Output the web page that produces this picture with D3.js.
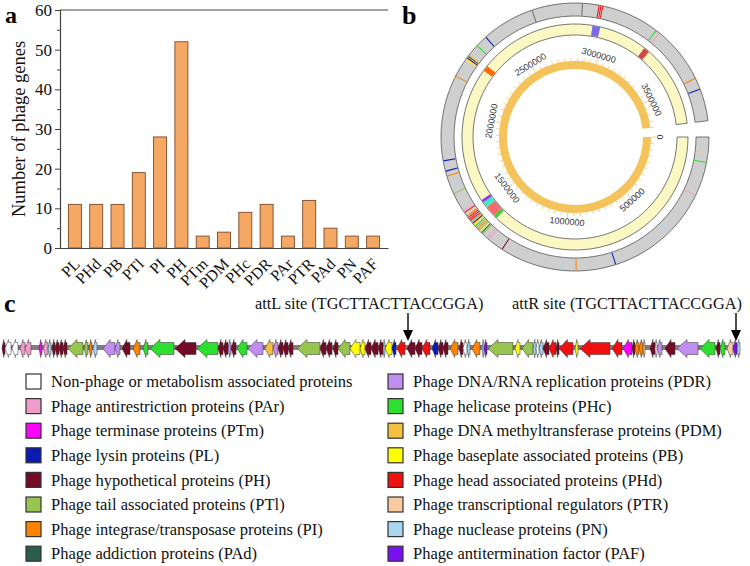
<!DOCTYPE html>
<html><head><meta charset="utf-8">
<script src="https://cdn.jsdelivr.net/npm/d3@7"></script>
<style>body{margin:0;background:#fff}svg{display:block}</style>
</head><body>
<svg id="fig" width="750" height="566"></svg>
<script>
// ---------------- DATA ----------------
// Panel a
const barCategories = ["PL","PHd","PB","PTl","PI","PH","PTm","PDM","PHc","PDR","PAr","PTR","PAd","PN","PAF"];
const barValues = [11,11,11,19,28,52,3,4,9,11,3,12,5,3,3];
const yTicks = [0,10,20,30,40,50,60];
const yMinorTicks = [5,15,25,35,45,55];

// Panel b
const genomeLength = 3700000;
const ringLabels = [0,500000,1000000,1500000,2000000,2500000,3000000,3500000];
// yellow ring regions [start, end, type]
const prophageRegions = [
  [2924000,2966000,"r1"],[3228000,3260000,"r2"],[2264000,2295000,"r3"],
  [1404000,1425000,"r4"],[1425000,1483000,"r5"],[1483000,1515000,"r6"],[1515000,1530000,"r7"]
];
// outer ring gene marks [position, category]
const outerMarks = [
  [76500,"PTR"],[115300,"PHc"],[270400,"PAr"],[476900,"PN"],[757800,"PL"],[938100,"PI"],
  [1000000,"PN"],[1289200,"PH"],[1362600,"PAr"],[1373100,"PAr"],
  [1399300,"PTl"],[1407700,"PAd"],[1415000,"PB"],[1423400,"PTl"],[1431800,"PI"],[1440200,"PTl"],
  [1448500,"PHc"],[1456900,"PB"],[1465300,"PH"],[1473700,"PTl"],[1482100,"PHd"],[1490500,"PHd"],
  [1498900,"PHd"],[1507300,"PI"],[1515700,"PTR"],[1526100,"PHd"],[1535500,"PAr"],
  [1624600,"PTl"],[1661300,"PN"],[1708500,"PI"],[1731500,"PL"],[1778700,"PL"],
  [2169700,"PI"],[2258800,"PB"],[2267200,"PH"],[2275600,"PAd"],[2284000,"PDM"],
  [2337400,"PHc"],[2391900,"PL"],[2634000,"SEP"],[2863600,"SEP"],
  [2939000,"PHd"],[2947400,"PHd"],[2955800,"PHd"],[3221000,"PHc"],[3238800,"PAr"],
  [3500900,"PI"],[3553200,"PL"]
];

// Panel c : genes [start, end, category] (bp), all on minus strand
const genes = [[200,500,"PH"],[500,1100,"NP"],[1200,1800,"NP"],[2000,2500,"PAr"],[2500,3100,"PAr"],[3900,4200,"PTm"],[4300,4800,"PAr"],[4800,5100,"PN"],[5200,5500,"PH"],[5500,5900,"PH"],[5900,6300,"PH"],[6300,6700,"PH"],[6800,8300,"PTl"],[8400,8800,"PTl"],[8900,9200,"PI"],[9300,9700,"PN"],[10300,11500,"PDR"],[11500,12000,"PDR"],[12200,13000,"PH"],[13300,14000,"PI"],[14300,14800,"PHc"],[15000,17400,"PHc"],[17500,19600,"PH"],[19700,21800,"PHc"],[21800,22300,"PH"],[22300,22800,"PH"],[22800,23100,"PDR"],[23100,23600,"PH"],[23700,24700,"PHc"],[24800,26300,"PDR"],[26500,27300,"PDM"],[27300,27800,"PDR"],[27800,28300,"PH"],[28300,28800,"PH"],[28800,29300,"PH"],[29700,32000,"PTl"],[32000,32600,"PH"],[32600,33200,"PH"],[33300,33800,"PH"],[33800,35000,"PTl"],[35000,36000,"PB"],[36000,36500,"PB"],[36500,37100,"PH"],[37100,37800,"PH"],[37800,38300,"PH"],[38300,38500,"PN"],[38500,39200,"PB"],[39200,39600,"PL"],[39700,40500,"PHd"],[40700,41500,"PH"],[41500,42200,"PH"],[42200,43000,"PHd"],[43200,43800,"PL"],[43800,44300,"PH"],[44300,44800,"PH"],[45000,45800,"PI"],[45900,46300,"PH"],[46300,46700,"NP"],[46700,47000,"PN"],[47200,48000,"PI"],[48200,48400,"PN"],[48400,48700,"PAF"],[48800,51300,"PTl"],[51500,52000,"PB"],[52200,53300,"PTl"],[53300,53600,"PN"],[53600,53900,"NP"],[53900,54300,"PN"],[54300,54900,"PH"],[54900,55600,"PHd"],[55600,55900,"PH"],[55900,57300,"PHd"],[57500,57800,"PB"],[58000,61000,"PHd"],[61200,62200,"PHd"],[62300,63200,"PTm"],[63200,63500,"PH"],[63500,63900,"PI"],[63900,64300,"PI"],[64300,64500,"PTR"],[65000,65500,"PH"],[65500,65700,"NP"],[65700,66200,"PDR"],[66500,67500,"PH"],[67700,69800,"PDR"],[70000,71500,"PHc"],[71600,72000,"PH"],[72000,72500,"PHc"],[72700,73300,"PTR"],[73300,73700,"PAF"],[73700,74000,"PN"]];
const regionLength = 75000;
const attSites = [["attL site (TGCTTACTTACCGGA)",40800],["attR site (TGCTTACTTACCGGA)",73600]];

const legendLeftKeys = ["NP","PAr","PTm","PL","PH","PTl","PI","PAd"];
const legendLeftLabels = ["Non-phage or metabolism associated proteins","Phage antirestriction proteins (PAr)","Phage terminase proteins (PTm)","Phage lysin proteins (PL)","Phage hypothetical proteins (PH)","Phage tail associated proteins (PTl)","Phage integrase/transposase proteins (PI)","Phage addiction proteins (PAd)"];
const legendRightKeys = ["PDR","PHc","PDM","PB","PHd","PTR","PN","PAF"];
const legendRightLabels = ["Phage DNA/RNA replication proteins (PDR)","Phage helicase proteins (PHc)","Phage DNA methyltransferase proteins (PDM)","Phage baseplate associated proteins (PB)","Phage head associated proteins (PHd)","Phage transcriptional regulators (PTR)","Phage nuclease proteins (PN)","Phage antitermination factor (PAF)"];

// ---------------- STYLES ----------------
const catColor = d3.scaleOrdinal()
  .domain(["NP","PAr","PTm","PL","PH","PTl","PI","PAd","PDR","PHc","PDM","PB","PHd","PTR","PN","PAF","SEP"])
  .range(["#ffffff","#f09ccb","#ff00ff","#0a1ab4","#740a26","#98c450","#ff8200","#2a5e4a","#c08ef0","#2ee02e","#f4c040","#ffff00","#f01010","#f8cca0","#a8d8f0","#7a10f0","#6a6a6a"]);
const regionColor = d3.scaleOrdinal()
  .domain(["r1","r2","r3","r4","r5","r6","r7"])
  .range(["#7b68ee","#d04848","#ff6a00","#3cd23c","#f56a6a","#40e8c8","#9932ff"]);
const serif = "'Times New Roman','Liberation Serif',serif";
const sans = "Arial,'Liberation Sans',sans-serif";

const svg = d3.select("#fig");

// ---------------- PANEL A ----------------
const A = {left:60,right:388,top:10,bottom:248};
const x = d3.scaleBand().domain(barCategories).range([A.left,A.right]).paddingInner(0.39).paddingOuter(0.395);
const y = d3.scaleLinear().domain([0,60]).range([A.bottom,A.top]);
const ga = svg.append("g");
ga.append("g").selectAll("rect").data(barCategories).join("rect")
  .attr("x",d=>x(d)).attr("width",x.bandwidth())
  .attr("y",(d,i)=>y(barValues[i])).attr("height",(d,i)=>y(0)-y(barValues[i]))
  .attr("fill","#f5a863").attr("stroke","#7a4a2a").attr("stroke-width",0.9);
// frame
ga.append("line").attr("x1",A.left).attr("x2",A.right).attr("y1",A.top).attr("y2",A.top).attr("stroke","#444").attr("stroke-width",1.2);
const yAxis = ga.append("g").attr("transform",`translate(${A.left},0)`)
  .call(d3.axisLeft(y).tickValues(yTicks).tickSize(5).tickPadding(3));
yAxis.select(".domain").attr("stroke","#444").attr("stroke-width",1.2);
yAxis.selectAll(".tick line").attr("stroke","#444");
yAxis.selectAll("text").attr("font-family",serif).attr("font-size",17).attr("fill","#111");
const yMinor = ga.append("g").attr("transform",`translate(${A.left},0)`)
  .call(d3.axisLeft(y).tickValues(yMinorTicks).tickSize(3).tickFormat(""));
yMinor.select(".domain").remove();
yMinor.selectAll(".tick line").attr("stroke","#444");
const xAxis = ga.append("g").attr("transform",`translate(0,${A.bottom})`)
  .call(d3.axisBottom(x).tickSize(0).tickPadding(0));
xAxis.select(".domain").attr("stroke","#444").attr("stroke-width",1.2);
xAxis.selectAll("text")
  .attr("font-family",serif).attr("font-size",16).attr("fill","#111")
  .attr("text-anchor","end").attr("dy",0).attr("y",0)
  .attr("transform","translate(6,17) rotate(-45)");
ga.append("text").attr("transform",`translate(25,129) rotate(-90)`)
  .attr("text-anchor","middle").attr("font-family",serif).attr("font-size",18.5).attr("fill","#111")
  .text("Number of phage genes");
svg.append("text").attr("x",5).attr("y",23).attr("font-family",serif).attr("font-weight","bold").attr("font-size",24).text("a");

// ---------------- PANEL B ----------------
const cx = 575, cy = 137, gapDeg = 7;
const ang = d3.scaleLinear().domain([0,genomeLength]).range([0,(360-gapDeg)*Math.PI/180]);
const gb = svg.append("g").attr("transform",`translate(${cx},${cy})`);
const arc = d3.arc();
const toArc = t => t + Math.PI/2;
// outer gray ring
gb.append("path").attr("d",arc({innerRadius:121,outerRadius:134,startAngle:toArc(ang(0)),endAngle:toArc(ang(genomeLength))}))
  .attr("fill","#cfcfcf").attr("stroke","#555").attr("stroke-width",0.8);
gb.append("g").selectAll("path").data(outerMarks).join("path")
  .attr("d",d=>arc({innerRadius:121.5,outerRadius:133.5,startAngle:toArc(ang(d[0]))-0.004,endAngle:toArc(ang(d[0]))+0.004}))
  .attr("fill",d=>catColor(d[1]));
// yellow ring
gb.append("path").attr("d",arc({innerRadius:102,outerRadius:113,startAngle:toArc(ang(0)),endAngle:toArc(ang(genomeLength))}))
  .attr("fill","#fbf8c4").attr("stroke","#555").attr("stroke-width",0.8);
gb.append("g").selectAll("path").data(prophageRegions).join("path")
  .attr("d",d=>arc({innerRadius:102.5,outerRadius:112.5,startAngle:toArc(ang(d[0])),endAngle:toArc(ang(d[1]))}))
  .attr("fill",d=>regionColor(d[2]));
// orange ideogram ring
gb.append("path").attr("d",arc({innerRadius:68,outerRadius:76,startAngle:toArc(ang(0)),endAngle:toArc(ang(genomeLength))}))
  .attr("fill","#f5c35c");
const tickVals = d3.range(0,genomeLength+1,50000);
gb.append("g").selectAll("line").data(tickVals).join("line")
  .attr("x1",d=>76*Math.cos(ang(d))).attr("y1",d=>76*Math.sin(ang(d)))
  .attr("x2",d=>(d%500000===0?81:79)*Math.cos(ang(d))).attr("y2",d=>(d%500000===0?81:79)*Math.sin(ang(d)))
  .attr("stroke","#f5c35c").attr("stroke-width",0.8);
gb.append("g").selectAll("text").data(ringLabels).join("text")
  .attr("transform",d=>{
    const t = ang(d), deg = t*180/Math.PI;
    let rot = deg - 90; if (deg > 180) rot += 180;
    return `translate(${85*Math.cos(t)},${85*Math.sin(t)}) rotate(${rot})`;
  })
  .attr("text-anchor","middle").attr("dominant-baseline","central")
  .attr("font-family",sans).attr("font-size",9).attr("fill","#333")
  .text(d=>d);
svg.append("text").attr("x",402).attr("y",24).attr("font-family",serif).attr("font-weight","bold").attr("font-size",26).text("b");

// ---------------- PANEL C ----------------
const gx = d3.scaleLinear().domain([0,regionLength]).range([0,750]);
const gc = svg.append("g");
const ymid = 348.5, H = 9, h = 6;
gc.append("line").attr("x1",gx(genes[0][0])).attr("x2",gx(genes[genes.length-1][1]))
  .attr("y1",ymid-1).attr("y2",ymid-1).attr("stroke","#7f7f7f").attr("stroke-width",5);
function arrowPath(s,e){
  const x0 = gx(s), x1 = gx(e), len = x1-x0;
  const head = Math.min(10, len*0.6);
  return `M${x0},${ymid} L${x0+head},${ymid-H} L${x0+head},${ymid-h} L${x1},${ymid-h} L${x1},${ymid+h} L${x0+head},${ymid+h} L${x0+head},${ymid+H} Z`;
}
gc.append("g").selectAll("path").data(genes).join("path")
  .attr("d",d=>arrowPath(d[0],d[1]))
  .attr("fill",d=>catColor(d[2])).attr("stroke","#333").attr("stroke-width",0.5);
// att sites
attSites.forEach(([label,pos])=>{
  const px = gx(pos);
  gc.append("text").attr("x", px - (pos>60000?224:153)).attr("y",309)
    .attr("font-family",serif).attr("font-size",16.3).attr("fill","#111").text(label);
  gc.append("line").attr("x1",px).attr("x2",px).attr("y1",313).attr("y2",332).attr("stroke","#000").attr("stroke-width",1.4);
  gc.append("path").attr("d",`M${px-5},${330} L${px+5},${330} L${px},${341} Z`).attr("fill","#000");
});
svg.append("text").attr("x",4).attr("y",312).attr("font-family",serif).attr("font-weight","bold").attr("font-size",26).text("c");

// legend
function legendCol(keys,labels,x0){
  const g = svg.append("g");
  const rows = g.selectAll("g").data(keys).join("g")
    .attr("transform",(d,i)=>`translate(${x0},${381.5+i*24.6})`);
  rows.append("rect").attr("x",0).attr("y",-7.5).attr("width",15).attr("height",15)
    .attr("fill",d=>catColor(d)).attr("stroke","#333").attr("stroke-width",1.2);
  rows.append("text").attr("x",25).attr("y",0).attr("dy","0.35em")
    .attr("font-family",serif).attr("font-size",16.5).attr("fill","#111")
    .text((d,i)=>labels[i]);
}
legendCol(legendLeftKeys,legendLeftLabels,26);
legendCol(legendRightKeys,legendRightLabels,388);
</script>
</body></html>
